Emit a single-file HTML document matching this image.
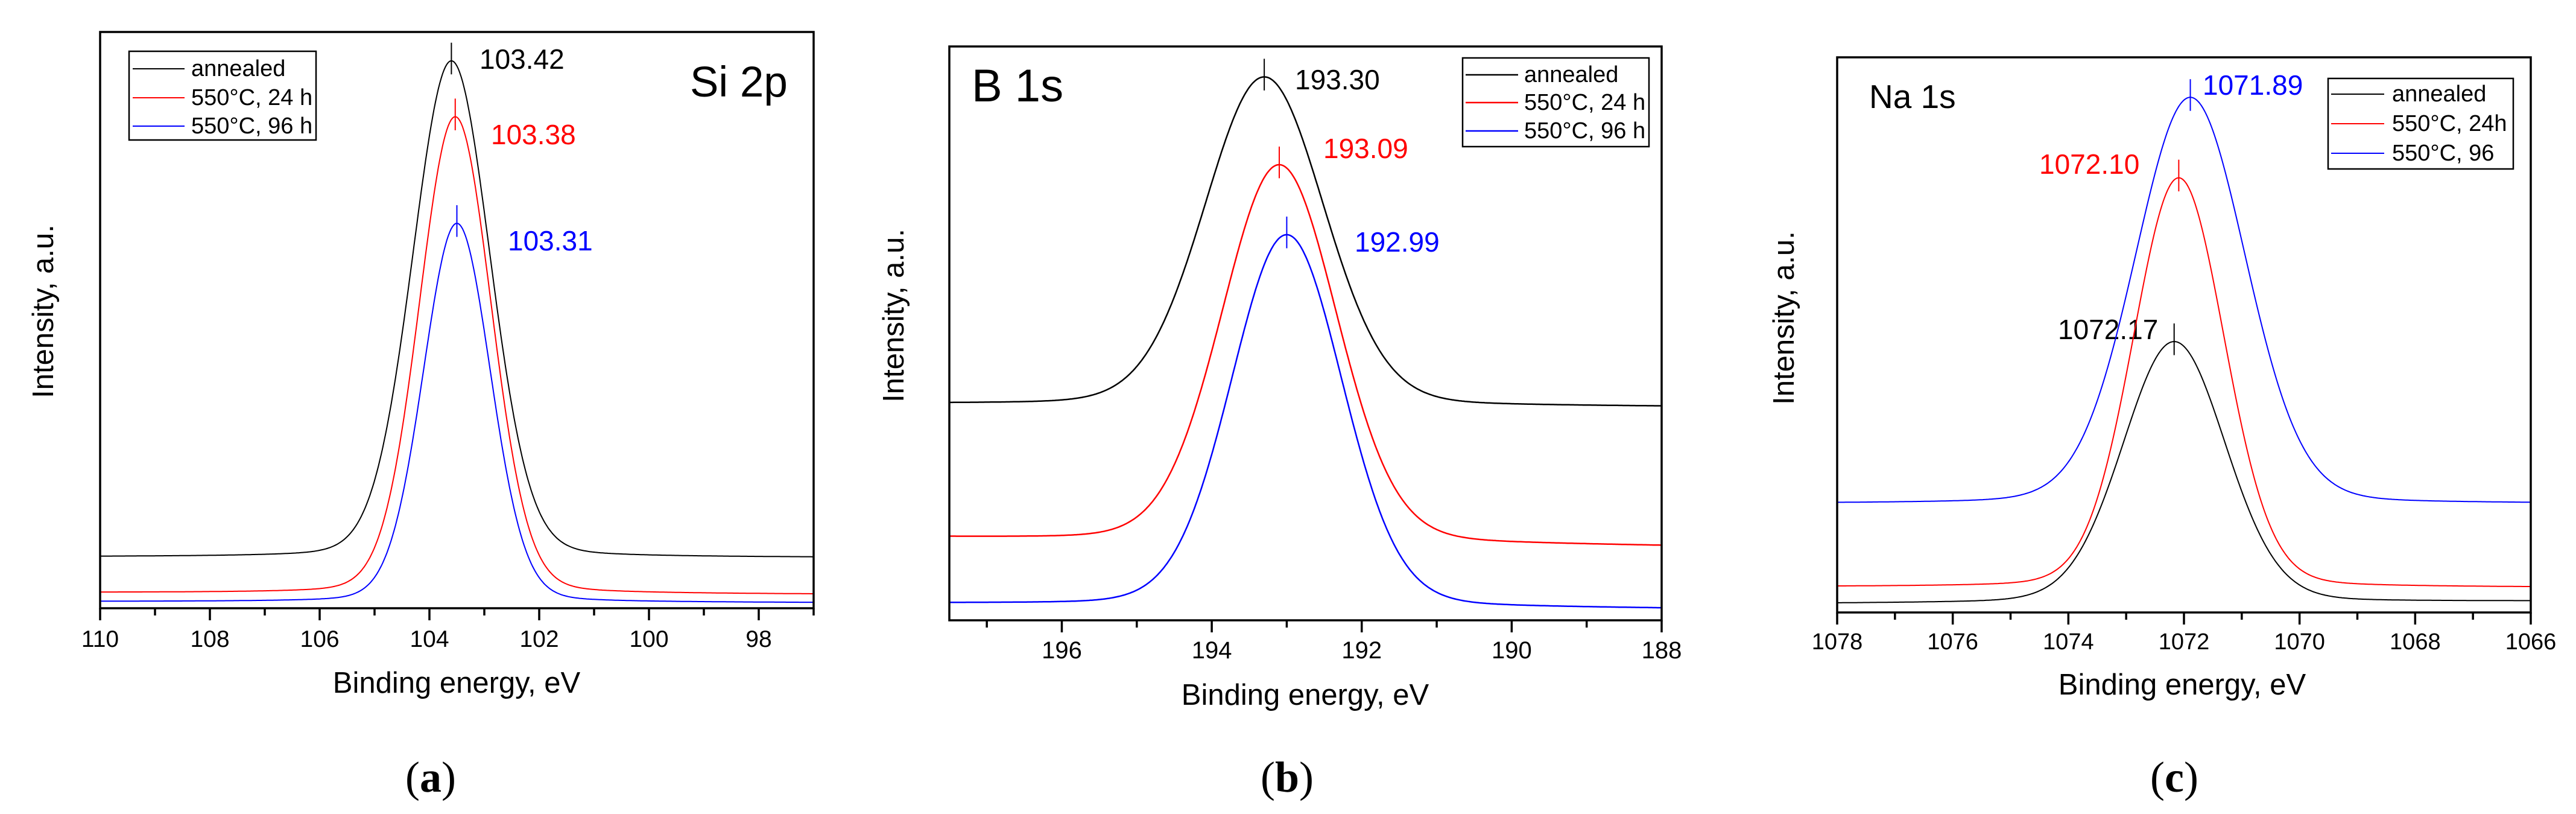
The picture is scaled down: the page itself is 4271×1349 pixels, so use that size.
<!DOCTYPE html>
<html><head><meta charset="utf-8"><style>
html,body{margin:0;padding:0;background:#fff;}
svg{display:block;font-family:"Liberation Sans",sans-serif;}
</style></head><body>
<svg id="fig" width="4271" height="1349" viewBox="0 0 4271 1349" xmlns="http://www.w3.org/2000/svg"></svg>
<script>
// ---- Panel (a) Si 2p data ----
const aSeries = ["annealed","550°C, 24 h","550°C, 96 h"];
const aPeakEV = [103.60,103.53,103.50];
const aPeakLabels = ["103.42","103.38","103.31"];
const aPeakI = [95.0,85.3,66.8];
const aBaseL = [8.9,2.7,1.15];
const aBaseR = [8.8,2.4,0.95];
const aFWHM = [1.67,1.55,1.45];
const aTicks = [110,108,106,104,102,100,98];
// ---- Panel (b) B 1s data ----
const bSeries = ["annealed","550°C, 24 h","550°C, 96 h"];
const bPeakEV = [193.30,193.10,193.00];
const bPeakLabels = ["193.30","193.09","192.99"];
const bPeakI = [94.7,79.4,67.2];
const bBaseL = [37.7,14.4,2.9];
const bBaseR = [37.2,12.9,2.0];
const bFWHM = [1.88,1.81,1.75];
const bTicks = [196,194,192,190,188];
// ---- Panel (c) Na 1s data ----
const cSeries = ["annealed","550°C, 24h","550°C, 96"];
const cPeakEV = [1072.17,1072.09,1071.89];
const cPeakLabels = ["1072.17","1072.10","1071.89"];
const cPeakI = [48.8,78.3,92.8];
const cBaseL = [1.6,4.6,19.6];
const cBaseR = [2.0,4.5,19.6];
const cFWHM = [2.1,1.87,2.26];
const cTicks = [1078,1076,1074,1072,1070,1068,1066];

const colors = ["#000000","#ff0000","#0000ff"];
const NS = "http://www.w3.org/2000/svg";
const fig = document.getElementById('fig');
function el(tag, attrs, parent, txt){
  const e = document.createElementNS(NS, tag);
  for (const k in attrs) e.setAttribute(k, attrs[k]);
  if (txt !== undefined) e.textContent = txt;
  (parent||fig).appendChild(e);
  return e;
}
function pv(x, c, w){
  const s = w/2.3548, g = Math.exp(-0.5*((x-c)/s)**2);
  const l = 1/(1+((x-c)/(w/2))**2);
  return 0.9*g + 0.1*l;
}
function panel(p){
  const g = el('g', {});
  
  
  const X = v => p.L + (p.xMax - v)/(p.xMax - p.xMin)*(p.R - p.L);
  const Y = v => p.B - v/100*(p.B - p.T);
  for (let i=0;i<3;i++){
    let d = "";
    const n = 500;
    for (let k=0;k<=n;k++){
      const ev = p.xMax - (p.xMax-p.xMin)*k/n;
      const t = k/n;
      const base = p.baseL[i]*(1-t) + p.baseR[i]*t;
      const tc = (p.xMax - p.peakEV[i])/(p.xMax-p.xMin);
      const basePk = p.baseL[i]*(1-tc) + p.baseR[i]*tc;
      const v = base + (p.peakI[i]-basePk)*pv(ev, p.peakEV[i], p.fwhm[i]);
      d += (k?"L":"M") + X(ev).toFixed(1) + "," + Y(v).toFixed(1);
    }
    const path = el('path', {d:d, fill:'none', stroke:colors[i], 'stroke-width':p.lw}, g);
    
    
    const px = X(p.peakEV[i]), py = Y(p.peakI[i]);
    const mk = el('line', {x1:px, x2:px, y1:py-p.mk, y2:py+p.mk*0.75, stroke:colors[i], 'stroke-width':2}, g);
    
    
    const lb = el('text', {x:p.lblX[i], y:p.lblY[i], 'font-size':46, fill:colors[i]}, g, p.labels[i]);
    
    
  }
  const fr = el('rect', {x:p.L, y:p.T, width:p.R-p.L, height:p.B-p.T, fill:'none', stroke:'#000', 'stroke-width':3.5}, g);
  
  
  const lo = Math.ceil(p.xMin), hi = Math.floor(p.xMax);
  for (let v=lo; v<=hi; v++){
    const major = p.ticks.indexOf(v) >= 0;
    const tk = el('line', {x1:X(v), x2:X(v), y1:p.B, y2:p.B + (major?20:12), stroke:'#000', 'stroke-width':3.5}, g);
    
    
  }
  for (const v of p.ticks){
    const t = el('text', {x:X(v), y:p.tickY, 'font-size':p.tfs, 'text-anchor':'middle'}, g, String(v));
    
    
  }
  const xt = el('text', {x:p.xtX, y:p.xtY, 'font-size':49, 'text-anchor':'middle'}, g, 'Binding energy, eV');
  
  
  const yt = el('text', {x:0, y:0, 'font-size':49, 'text-anchor':'middle', transform:`translate(${p.ytX},${p.ytY}) rotate(-90)`}, g, 'Intensity, a.u.');
  
  
  const ti = el('text', {x:p.titX, y:p.titY, 'font-size':p.titFs}, g, p.title);
  
  
  const cap = el('text', {x:p.capX, y:1312, 'font-size':72, 'text-anchor':'middle', 'font-family':'"Liberation Serif",serif'}, g);
  
  
  el('tspan', {}, cap, '(');
  el('tspan', {'font-weight':'bold'}, cap, p.cap);
  el('tspan', {}, cap, ')');
  const lg = el('g', {}, g);
  
  
  el('rect', {x:p.lg[0], y:p.lg[1], width:p.lg[2]-p.lg[0], height:p.lg[3]-p.lg[1], fill:'#fff', stroke:'#000', 'stroke-width':2.5}, lg);
  for (let i=0;i<3;i++){
    const by = p.lgY[i];
    const ent = el('g', {}, lg);
    
    
    el('line', {x1:p.lgL[0], x2:p.lgL[1], y1:by-12, y2:by-12, stroke:colors[i], 'stroke-width':p.lw}, ent);
    el('text', {x:p.lgT, y:by, 'font-size':38}, ent, p.series[i]);
  }
}
panel({id:'si2p', L:166, R:1349, T:53, B:1008, xMin:97, xMax:110, lw:2,
  peakEV:aPeakEV, peakI:aPeakI, baseL:aBaseL, baseR:aBaseR, fwhm:aFWHM, labels:aPeakLabels, series:aSeries,
  ticks:aTicks, mk:30, lblX:[795,814,842], lblY:[114,239,415], tickY:1072, tfs:39,
  xtX:757, xtY:1148, ytX:88, ytY:516, title:'Si 2p', titX:1144, titY:160, titFs:71, capX:714, cap:'a',
  lg:[214,85,524,232], lgL:[220,306], lgT:317, lgY:[126,174,221]});
panel({id:'b1s', L:1574, R:2755, T:77, B:1028, xMin:188, xMax:197.5, lw:2.5,
  peakEV:bPeakEV, peakI:bPeakI, baseL:bBaseL, baseR:bBaseR, fwhm:bFWHM, labels:bPeakLabels, series:bSeries,
  ticks:bTicks, mk:30, lblX:[2147,2194,2246], lblY:[148,262,417], tickY:1091, tfs:40,
  xtX:2164, xtY:1168, ytX:1498, ytY:523, title:'B 1s', titX:1611, titY:168, titFs:76, capX:2134, cap:'b',
  lg:[2425,96,2734,243], lgL:[2430,2517], lgT:2527, lgY:[136,182,229]});
panel({id:'na1s', L:3046, R:4196, T:95, B:1015, xMin:1066, xMax:1078, lw:2,
  peakEV:cPeakEV, peakI:cPeakI, baseL:cBaseL, baseR:cBaseR, fwhm:cFWHM, labels:cPeakLabels, series:cSeries,
  ticks:cTicks, mk:30, lblX:[3412,3381,3652], lblY:[562,288,157], tickY:1076, tfs:38,
  xtX:3618, xtY:1151, ytX:2974, ytY:527, title:'Na 1s', titX:3099, titY:179, titFs:55, capX:3605, cap:'c',
  lg:[3860,130,4167,280], lgL:[3865,3953], lgT:3966, lgY:[168,217,266]});
</script>
</body></html>
